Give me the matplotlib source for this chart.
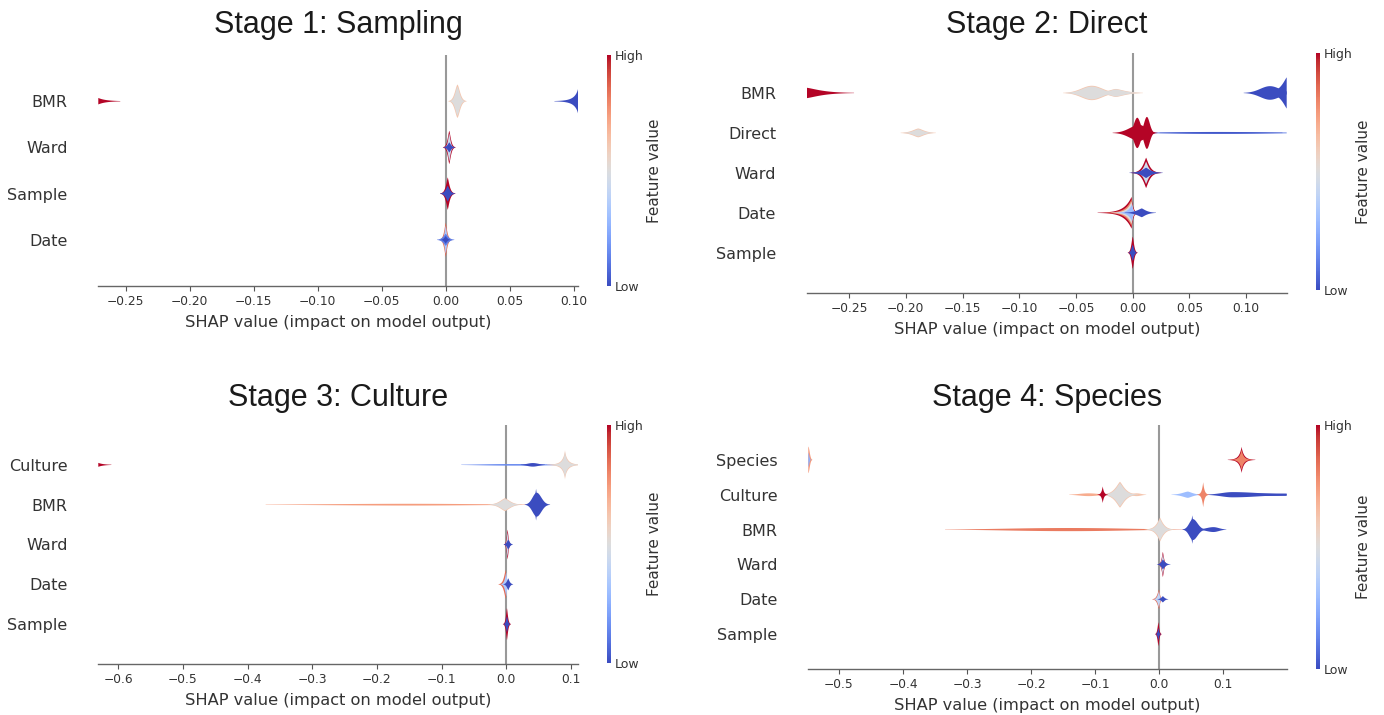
import numpy as np
import matplotlib
matplotlib.use("Agg")
import matplotlib.pyplot as plt
from matplotlib import cm, colors

# ---------------- data ----------------
titles = ["Stage 1: Sampling", "Stage 2: Direct", "Stage 3: Culture", "Stage 4: Species"]

features_1 = ["BMR", "Ward", "Sample", "Date"]
features_2 = ["BMR", "Direct", "Ward", "Date", "Sample"]
features_3 = ["Culture", "BMR", "Ward", "Date", "Sample"]
features_4 = ["Species", "Culture", "BMR", "Ward", "Date", "Sample"]

xlim_1 = (-0.2714, 0.1036)
xlim_2 = (-0.2873, 0.1357)
xlim_3 = (-0.6306, 0.1108)
xlim_4 = (-0.548, 0.1995)

xticks_1 = [-0.25, -0.20, -0.15, -0.10, -0.05, 0.00, 0.05, 0.10]
xticks_2 = [-0.25, -0.20, -0.15, -0.10, -0.05, 0.00, 0.05, 0.10]
xticks_3 = [-0.6, -0.5, -0.4, -0.3, -0.2, -0.1, 0.0, 0.1]
xticks_4 = [-0.5, -0.4, -0.3, -0.2, -0.1, 0.0, 0.1]

# density layers per feature, drawn in order:
# (center SHAP value, left spread, right spread, half height, feature value 0..1, sharpness)
layers_1 = {
    "BMR": [(-0.2714, 0.001, 0.006, 0.07, 1.0, 1.0),
            (0.0092, 0.0028, 0.0028, 0.36, 0.62, 1.6),
            (0.0092, 0.0024, 0.0024, 0.31, 0.5, 1.6),
            (0.1036, 0.003, 0.001, 0.30, 0.0, 0.8)],
    "Ward": [(0.0028, 0.0017, 0.0017, 0.36, 1.0, 1.4),
             (0.0028, 0.0013, 0.0013, 0.30, 0.45, 1.4),
             (0.0028, 0.0018, 0.0018, 0.11, 0.0, 1.3)],
    "Sample": [(0.0016, 0.0019, 0.0019, 0.35, 1.0, 1.3),
               (0.0016, 0.0021, 0.0021, 0.17, 0.0, 1.3)],
    "Date": [(0.0, 0.0016, 0.0016, 0.37, 0.85, 1.3),
             (0.0, 0.0012, 0.0012, 0.30, 0.35, 1.3),
             (0.0, 0.0026, 0.0026, 0.13, 0.12, 1.3),
             (0.0, 0.0015, 0.0015, 0.08, 0.0, 1.3)],
}

layers_2 = {
    "BMR": [(-0.2873, 0.001, 0.016, 0.13, 1.0, 1.3),
            (-0.036, 0.013, 0.013, 0.18, 0.62, 2.0),
            (-0.015, 0.009, 0.011, 0.10, 0.62, 1.5),
            (-0.036, 0.012, 0.012, 0.16, 0.5, 2.0),
            (-0.015, 0.008, 0.010, 0.09, 0.5, 1.5),
            (0.121, 0.012, 0.012, 0.17, 0.0, 2.0),
            (0.1357, 0.006, 0.001, 0.39, 0.0, 1.2)],
    "Direct": [(-0.189, 0.007, 0.007, 0.11, 0.62, 1.5),
               (-0.189, 0.006, 0.006, 0.09, 0.5, 1.5),
               (0.075, 0.06, 0.065, 0.024, 0.1, 2.0),
               (0.075, 0.045, 0.05, 0.016, 0.0, 2.5),
               (0.006, 0.012, 0.008, 0.20, 1.0, 2.0),
               (0.004, 0.004, 0.004, 0.38, 1.0, 2.0),
               (0.0125, 0.0035, 0.0035, 0.40, 1.0, 2.0)],
    "Ward": [(0.0118, 0.0038, 0.0038, 0.38, 1.0, 1.2),
             (0.0118, 0.0030, 0.0030, 0.28, 0.45, 1.2),
             (0.0118, 0.0052, 0.0052, 0.13, 0.0, 1.2)],
    "Date": [(-0.001, 0.0065, 0.0015, 0.40, 1.0, 1.0),
             (-0.001, 0.0052, 0.0013, 0.34, 0.8, 1.0),
             (-0.001, 0.0042, 0.0012, 0.28, 0.5, 1.0),
             (-0.0005, 0.0032, 0.001, 0.22, 0.3, 1.0),
             (0.008, 0.006, 0.005, 0.11, 0.0, 1.3)],
    "Sample": [(0.0, 0.0016, 0.0016, 0.40, 1.0, 1.5),
               (0.0, 0.0015, 0.0015, 0.20, 0.0, 1.5)],
}

layers_3 = {
    "Culture": [(-0.6306, 0.001, 0.008, 0.05, 1.0, 1.0),
                (0.015, 0.07, 0.07, 0.02, 0.15, 2.5),
                (0.041, 0.012, 0.012, 0.045, 0.0, 2.0),
                (0.0907, 0.0042, 0.0042, 0.37, 0.62, 0.8),
                (0.0907, 0.0036, 0.0036, 0.33, 0.5, 0.8)],
    "BMR": [(-0.15, 0.17, 0.15, 0.022, 0.74, 2.0),
            (-0.002, 0.011, 0.011, 0.16, 0.62, 1.5),
            (-0.002, 0.010, 0.010, 0.14, 0.5, 1.5),
            (0.047, 0.009, 0.010, 0.30, 0.0, 2.0),
            (0.046, 0.003, 0.003, 0.40, 0.0, 1.0)],
    "Ward": [(0.002, 0.0019, 0.0019, 0.37, 1.0, 1.4),
             (0.002, 0.0015, 0.0015, 0.30, 0.45, 1.4),
             (0.003, 0.003, 0.003, 0.12, 0.0, 1.4)],
    "Date": [(-0.001, 0.0035, 0.0018, 0.36, 0.85, 1.3),
             (0.0, 0.0028, 0.0015, 0.30, 0.35, 1.3),
             (0.003, 0.0028, 0.0028, 0.15, 0.0, 1.3)],
    "Sample": [(0.001, 0.0021, 0.0021, 0.40, 1.0, 1.4),
               (0.001, 0.0019, 0.0019, 0.20, 0.0, 1.4)],
}

layers_4 = {
    "Species": [(-0.548, 0.001, 0.003, 0.38, 0.75, 2.0),
                (-0.548, 0.001, 0.002, 0.20, 0.25, 2.0),
                (0.129, 0.004, 0.004, 0.38, 1.0, 0.9),
                (0.129, 0.0033, 0.0033, 0.30, 0.8, 0.9)],
    "Culture": [(-0.11, 0.02, 0.02, 0.04, 0.7, 2.0),
                (-0.035, 0.01, 0.01, 0.04, 0.62, 2.0),
                (-0.061, 0.010, 0.010, 0.37, 0.62, 1.3),
                (-0.061, 0.009, 0.009, 0.33, 0.5, 1.3),
                (-0.088, 0.002, 0.002, 0.24, 1.0, 1.0),
                (0.045, 0.012, 0.010, 0.09, 0.3, 1.5),
                (0.115, 0.025, 0.06, 0.075, 0.0, 2.0),
                (0.17, 0.05, 0.08, 0.035, 0.0, 3.0),
                (0.069, 0.0022, 0.0022, 0.36, 0.8, 1.0)],
    "BMR": [(-0.14, 0.13, 0.12, 0.045, 0.82, 2.2),
            (0.0016, 0.007, 0.007, 0.34, 0.62, 1.2),
            (0.0016, 0.0062, 0.0062, 0.30, 0.5, 1.2),
            (0.085, 0.015, 0.012, 0.07, 0.0, 2.0),
            (0.053, 0.008, 0.010, 0.30, 0.0, 2.0),
            (0.052, 0.003, 0.003, 0.41, 0.0, 1.0)],
    "Ward": [(0.006, 0.0024, 0.0024, 0.36, 1.0, 1.3),
             (0.006, 0.002, 0.002, 0.30, 0.45, 1.3),
             (0.006, 0.0035, 0.0045, 0.14, 0.0, 1.3)],
    "Date": [(0.0, 0.0035, 0.002, 0.28, 0.85, 1.3),
             (0.0, 0.0028, 0.0016, 0.23, 0.4, 1.3),
             (0.006, 0.0035, 0.0035, 0.09, 0.0, 1.3)],
    "Sample": [(-0.001, 0.0018, 0.0018, 0.34, 1.0, 1.4),
               (-0.001, 0.0015, 0.0015, 0.17, 0.0, 1.4)],
}

# ---------------- layout ----------------
W, H = 1384, 715
fig = plt.figure(figsize=(W / 100, H / 100), dpi=100)
cmap = matplotlib.colormaps["coolwarm"]

def px_axes(x0, x1, ytop, ybot):
    return [x0 / W, 1 - ybot / H, (x1 - x0) / W, (ybot - ytop) / H]

panels = [
    (features_1, layers_1, xlim_1, xticks_1, px_axes(98.3, 578.3, 55, 286), (607, 55, 286)),
    (features_2, layers_2, xlim_2, xticks_2, px_axes(806.7, 1286.7, 53, 292.7), (1316, 53, 290)),
    (features_3, layers_3, xlim_3, xticks_3, px_axes(98.3, 578.0, 425, 664), (607, 425, 663)),
    (features_4, layers_4, xlim_4, xticks_4, px_axes(808.3, 1286.7, 425, 669), (1316, 425, 669)),
]

tcol = "#333333"
for k, (feats, layers, xlim, xticks, rect, cbpos) in enumerate(panels):
    ax = fig.add_axes(rect)
    n = len(feats)
    xs = np.linspace(xlim[0], xlim[1], 8000)
    ax.axvline(0, color="#999999", lw=1.5, zorder=0)
    for i, f in enumerate(feats):
        ypos = n - 1 - i
        for (c, sl, sr, hh, v, p) in layers[f]:
            d = np.where(xs < c, (c - xs) / sl, (xs - c) / sr)
            prof = hh * np.exp(-np.power(d, p))
            prof[prof < 0.004] = np.nan
            ax.fill_between(xs, ypos - prof, ypos + prof, facecolor=cmap(v),
                            edgecolor="none", lw=0, zorder=2)
    ax.set_xlim(*xlim)
    ax.set_ylim(-1, n)
    ax.set_yticks(range(n))
    ax.set_yticklabels(feats[::-1], fontsize=11.5, color=tcol)
    ax.set_xticks(xticks)
    ax.tick_params(axis="y", length=0, pad=22)
    ax.tick_params(axis="x", labelsize=8.8, labelcolor=tcol, color="#555555",
                   length=3.5, width=0.8, pad=3)
    for s in ["top", "right", "left"]:
        ax.spines[s].set_visible(False)
    ax.spines["bottom"].set_color("#666666")
    ax.spines["bottom"].set_linewidth(1.0)
    ax.set_xlabel("SHAP value (impact on model output)", fontsize=11.7, color=tcol, labelpad=5)
    ax.patch.set_alpha(0)

    # colorbar
    cx, cy0, cy1 = cbpos
    cax = fig.add_axes([cx / W, 1 - cy1 / H, 4 / W, (cy1 - cy0) / H])
    sm = cm.ScalarMappable(cmap=cmap, norm=colors.Normalize(0, 1))
    cb = fig.colorbar(sm, cax=cax, ticks=[0, 1])
    cb.set_ticklabels(["Low", "High"])
    cb.ax.tick_params(labelsize=9, length=0, pad=3, labelcolor=tcol)
    cb.outline.set_visible(False)
    cb.set_label("Feature value", fontsize=11, color=tcol, labelpad=2)

    # title
    xc = rect[0] + rect[2] / 2
    ytitle = 33 if k < 2 else 406
    fig.text(xc, 1 - ytitle / H, titles[k], ha="center", va="baseline",
             fontsize=22, family="Liberation Sans", color="#1a1a1a")

fig.savefig("out.png", dpi=100)
